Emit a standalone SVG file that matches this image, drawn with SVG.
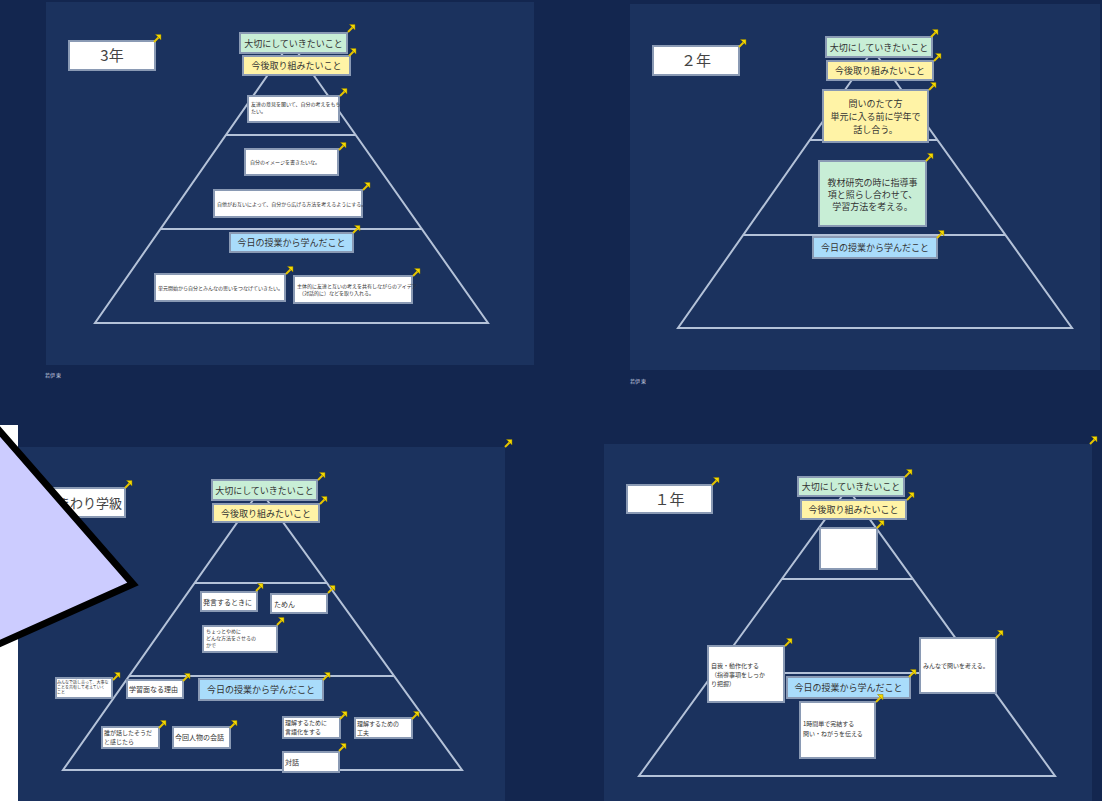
<svg xmlns="http://www.w3.org/2000/svg" width="1102" height="801" viewBox="0 0 1102 801">
<style>
.bg{fill:#13264f}
.pn{fill:#1b325e}
.ln{stroke:#b4c2d8;stroke-width:2;fill:none}
.wn{fill:#ffffff;stroke:#8a9ab4;stroke-width:2}
.gn{fill:#c8eed6;stroke:#8a9ab4;stroke-width:2}
.yn{fill:#fff3a6;stroke:#8a9ab4;stroke-width:2}
.bn{fill:#a9dcfb;stroke:#8a9ab4;stroke-width:2}
text{font-family:"Noto Sans CJK JP","Noto Sans",sans-serif;fill:#333}
.h{font-size:9px;text-anchor:middle}
.t{font-size:15px;text-anchor:middle;fill:#444}
.s{font-size:5px}
.m{font-size:7px}
.n{font-size:9px;text-anchor:middle}
.cap{font-size:5px;fill:#c8d0e0}
</style>
<defs>
<g id="ar"><path d="M1,8 L6,3" stroke="#e6c400" stroke-width="2"/><path d="M2.5,0.5 L8,0.5 L8,6 Z" fill="#f4d800" stroke="#8a7a00" stroke-width="0.5"/></g>
</defs>
<rect class="bg" x="0" y="0" width="1102" height="801"/>
<rect fill="#ffffff" x="0" y="425" width="18" height="376"/>
<rect class="pn" x="46" y="2" width="488" height="363"/>
<rect class="pn" x="630" y="4" width="470" height="366"/>
<rect class="pn" x="18" y="447" width="487" height="354"/>
<rect class="pn" x="604" y="444" width="488" height="357"/>
<text class="cap" x="45" y="377">若伊 東</text>
<text class="cap" x="630" y="383">若伊 東</text>
<use href="#ar" x="504" y="439"/>
<use href="#ar" x="1089" y="436"/>

<g id="lines">
<path class="ln" d="M283,53 L95,323 L488,323 L298,53"/>
<path class="ln" d="M226,135 L356,135 M160,229 L422,229"/>
<path class="ln" d="M868,57 L678,328 L1072,328 L878,57"/>
<path class="ln" d="M810,140 L937,140 M743,235 L1005,235"/>
<path class="ln" d="M253,500 L63,770 L462,770 L267,500"/>
<path class="ln" d="M195,583 L327,583 M129,676 L394,676"/>
<path class="ln" d="M842,496 L639,776 L1055,776 L853,496"/>
<path class="ln" d="M782,579 L913,579 M714,673 L981,673"/>
</g>

<g id="p1-title"><rect class="wn" x="69" y="41" width="86" height="29"/><text class="t" x="112" y="61">3年</text><use href="#ar" x="153" y="34"/></g>
<g id="p1-keep"><rect class="gn" x="240" y="33" width="107" height="20"/><text class="h" x="293.5" y="46.5">大切にしていきたいこと</text><use href="#ar" x="347" y="24"/></g>
<g id="p1-next"><rect class="yn" x="243" y="56" width="107" height="19"/><text class="h" x="296.5" y="69">今後取り組みたいこと</text><use href="#ar" x="348" y="48"/></g>
<g id="p1-n1"><rect class="wn" x="248" y="96" width="91" height="26"/><text class="s" x="251" y="106">友達の意見を聞いて、自分の考えをもち</text><text class="s" x="251" y="113">たい。</text><use href="#ar" x="339" y="88"/></g>
<g id="p1-n2"><rect class="wn" x="245" y="149" width="93" height="26"/><text class="s" x="250" y="164">自分のイメージを書きたいな。</text><use href="#ar" x="338" y="142"/></g>
<g id="p1-n3"><rect class="wn" x="214" y="190" width="148" height="27"/><text class="s" x="217" y="206">自他がお互いによって、自分から広げる方法を考えるようにする。</text><use href="#ar" x="362" y="182"/></g>
<g id="p1-learn"><rect class="bn" x="230" y="233" width="123" height="19"/><text class="h" x="291.5" y="246">今日の授業から学んだこと</text><use href="#ar" x="352" y="225"/></g>
<g id="p1-n4"><rect class="wn" x="155" y="274" width="130" height="27"/><text class="s" x="158" y="290">単元開始から自分とみんなの思いをつなげていきたい。</text><use href="#ar" x="285" y="266"/></g>
<g id="p1-n5"><rect class="wn" x="294" y="276" width="118" height="27"/><text class="s" x="297" y="288">主体的に友達と互いの考えを共有しながらのアイデア</text><text class="s" x="299" y="295">（対話的に）などを取り入れる。</text><use href="#ar" x="412" y="268"/></g>

<g id="p2-title"><rect class="wn" x="653" y="46" width="86" height="29"/><text class="t" x="696" y="66">２年</text><use href="#ar" x="738" y="39"/></g>
<g id="p2-keep"><rect class="gn" x="826" y="37" width="106" height="20"/><text class="h" x="879" y="50.5">大切にしていきたいこと</text><use href="#ar" x="930" y="29"/></g>
<g id="p2-next"><rect class="yn" x="827" y="61" width="106" height="19"/><text class="h" x="880" y="74">今後取り組みたいこと</text><use href="#ar" x="933" y="53"/></g>
<g id="p2-n1"><rect class="yn" x="823" y="90" width="105" height="52"/><text class="n" x="875.5" y="107">問いのたて方</text><text class="n" x="875.5" y="120">単元に入る前に学年で</text><text class="n" x="875.5" y="133">話し合う。</text><use href="#ar" x="928" y="82"/></g>
<g id="p2-n2"><rect class="gn" x="819" y="161" width="107" height="65"/><text class="n" x="872.5" y="186">教材研究の時に指導事</text><text class="n" x="872.5" y="198">項と照らし合わせて、</text><text class="n" x="872.5" y="210">学習方法を考える。</text><use href="#ar" x="925" y="153"/></g>
<g id="p2-learn"><rect class="bn" x="813" y="237" width="124" height="21"/><text class="h" x="875" y="251">今日の授業から学んだこと</text><use href="#ar" x="936" y="230"/></g>

<g id="p3-title"><rect class="wn" x="30" y="488" width="95" height="29"/><text x="57" y="508" style="font-size:13px;fill:#444">まわり学級</text><use href="#ar" x="124" y="480"/></g>
<g id="p3-keep"><rect class="gn" x="212" y="480" width="105" height="20"/><text class="h" x="264.5" y="493.5">大切にしていきたいこと</text><use href="#ar" x="317" y="472"/></g>
<g id="p3-next"><rect class="yn" x="213" y="504" width="106" height="18"/><text class="h" x="266" y="516.5">今後取り組みたいこと</text><use href="#ar" x="319" y="496"/></g>
<g id="p3-n1"><rect class="wn" x="201" y="592" width="56" height="19"/><text class="m" x="203" y="604.5">発言するときに</text><use href="#ar" x="255" y="583"/></g>
<g id="p3-n2"><rect class="wn" x="271" y="594" width="56" height="19"/><text class="m" x="274" y="606.5">ためん</text><use href="#ar" x="327" y="585"/></g>
<g id="p3-n3"><rect class="wn" x="203" y="626" width="74" height="26"/><text class="s" x="206" y="633">ちょっとやめに</text><text class="s" x="206" y="640">どんな方法をさせるの</text><text class="s" x="206" y="647">かで</text><use href="#ar" x="276" y="617"/></g>
<g id="p3-n4"><rect class="wn" x="56" y="678" width="56" height="20"/><text class="s" x="57" y="684" style="font-size:4px">みんなで話し合って、大事な</text><text class="s" x="57" y="689" style="font-size:4px">ことを共有して考えていく</text><text class="s" x="57" y="694" style="font-size:4px">こと</text><use href="#ar" x="112" y="672"/></g>
<g id="p3-n5"><rect class="wn" x="127" y="680" width="56" height="18"/><text class="m" x="129" y="691.5">学習面なる理由</text><use href="#ar" x="182" y="673"/></g>
<g id="p3-learn"><rect class="bn" x="199" y="679" width="124" height="21"/><text class="h" x="261" y="693">今日の授業から学んだこと</text><use href="#ar" x="322" y="672"/></g>
<g id="p3-n6"><rect class="wn" x="102" y="727" width="57" height="21"/><text class="s" x="104" y="735" style="font-size:6px">誰が話したそうだ</text><text class="s" x="104" y="744" style="font-size:6px">と感じたら</text><use href="#ar" x="158" y="720"/></g>
<g id="p3-n7"><rect class="wn" x="173" y="727" width="57" height="21"/><text class="m" x="175" y="740">今回人物の会話</text><use href="#ar" x="229" y="720"/></g>
<g id="p3-n8"><rect class="wn" x="283" y="717" width="57" height="21"/><text class="s" x="285" y="725" style="font-size:6px">理解するために</text><text class="s" x="285" y="734" style="font-size:6px">言語化をする</text><use href="#ar" x="339" y="711"/></g>
<g id="p3-n9"><rect class="wn" x="355" y="718" width="57" height="20"/><text class="s" x="357" y="726" style="font-size:6px">理解するための</text><text class="s" x="357" y="735" style="font-size:6px">工夫</text><use href="#ar" x="411" y="711"/></g>
<g id="p3-n10"><rect class="wn" x="283" y="752" width="56" height="20"/><text class="m" x="285" y="765">対話</text><use href="#ar" x="338" y="743"/></g>

<g id="p4-title"><rect class="wn" x="627" y="485" width="85" height="28"/><text class="t" x="669.5" y="505">１年</text><use href="#ar" x="711" y="477"/></g>
<g id="p4-keep"><rect class="gn" x="798" y="477" width="106" height="19"/><text class="h" x="851" y="490">大切にしていきたいこと</text><use href="#ar" x="904" y="469"/></g>
<g id="p4-next"><rect class="yn" x="801" y="500" width="105" height="19"/><text class="h" x="853.5" y="513">今後取り組みたいこと</text><use href="#ar" x="906" y="492"/></g>
<g id="p4-n1"><rect class="wn" x="820" y="528" width="57" height="41"/><use href="#ar" x="876" y="520"/></g>
<g id="p4-n2"><rect class="wn" x="708" y="646" width="76" height="56"/><text class="s" x="711" y="668" style="font-size:6px">自我・動作化する</text><text class="s" x="711" y="677" style="font-size:6px">（指導事項をしっか</text><text class="s" x="711" y="686" style="font-size:6px">り把握）</text><use href="#ar" x="784" y="638"/></g>
<g id="p4-learn"><rect class="bn" x="787" y="677" width="123" height="21"/><text class="h" x="848.5" y="691">今日の授業から学んだこと</text><use href="#ar" x="908" y="669"/></g>
<g id="p4-n3"><rect class="wn" x="920" y="638" width="76" height="55"/><text class="s" x="923" y="668" style="font-size:6px">みんなで問いを考える。</text><use href="#ar" x="995" y="630"/></g>
<g id="p4-n4"><rect class="wn" x="800" y="702" width="75" height="56"/><text class="s" x="803" y="726" style="font-size:6px">1時間単で完結する</text><text class="s" x="803" y="736" style="font-size:6px">問い・ねがうを伝える</text><use href="#ar" x="875" y="694"/></g>

<g id="callout"><path d="M-10,420 L133,584 L-10,648 Z" fill="#ccccff" stroke="#000" stroke-width="7" stroke-linejoin="miter"/></g>
</svg>
